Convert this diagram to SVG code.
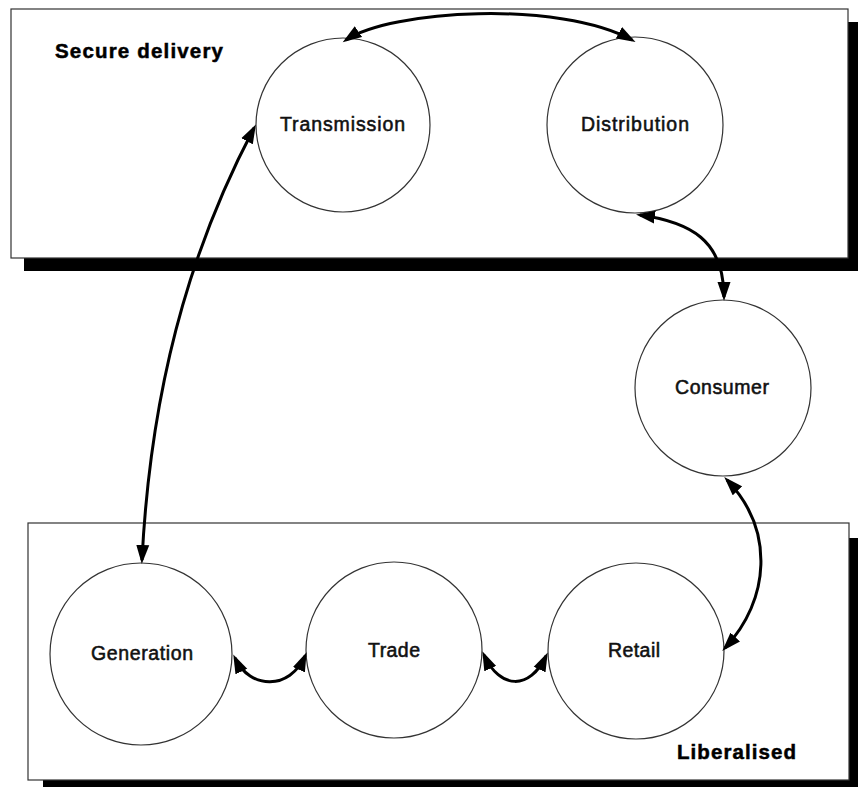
<svg xmlns="http://www.w3.org/2000/svg" width="858" height="787" viewBox="0 0 858 787">
  <style>
    .panel { fill: #ffffff; stroke: #333333; stroke-width: 1.2; }
    .shadow { fill: #000000; }
    .node circle { fill: #ffffff; stroke: #333333; stroke-width: 1.2; }
    .node text { font-family: "Liberation Sans", Arial, sans-serif; font-size: 19.5px; fill: #111111; stroke: #111111; stroke-width: 0.55; text-anchor: middle; }
    .title { font-family: "Liberation Sans", Arial, sans-serif; font-size: 20.5px; font-weight: bold; fill: #000000; stroke: #000000; stroke-width: 0.5; }
    .link { fill: none; stroke: #000000; stroke-width: 3; marker-start: url(#head); marker-end: url(#head); }
  </style>
  <defs>
    <marker id="head" markerUnits="userSpaceOnUse" markerWidth="20" markerHeight="14" refX="15" refY="6.5" orient="auto-start-reverse" viewBox="0 0 20 13">
      <path d="M0,0 L19,6.5 L0,13 Z" fill="#000000"/>
    </marker>
  </defs>

  <rect width="858" height="787" fill="#ffffff"/>

  <!-- Panels with drop shadows -->
  <g id="panel-secure">
    <rect class="shadow" x="24" y="22" width="840" height="249"/>
    <rect class="panel" x="11" y="9" width="837" height="249"/>
    <text class="title" x="55" y="58" textLength="168" lengthAdjust="spacing">Secure delivery</text>
  </g>
  <g id="panel-liberalised">
    <rect class="shadow" x="43" y="538" width="822" height="257"/>
    <rect class="panel" x="28" y="523" width="821" height="257"/>
    <text class="title" x="677" y="759" textLength="119" lengthAdjust="spacing">Liberalised</text>
  </g>

  <!-- Nodes -->
  <g id="transmission" class="node">
    <circle cx="343" cy="125" r="87"/>
    <text x="342.5" y="131" textLength="125" lengthAdjust="spacing">Transmission</text>
  </g>
  <g id="distribution" class="node">
    <circle cx="635" cy="125" r="88"/>
    <text x="635" y="131" textLength="108" lengthAdjust="spacing">Distribution</text>
  </g>
  <g id="consumer" class="node">
    <circle cx="723" cy="388" r="88"/>
    <text x="722" y="394" textLength="94" lengthAdjust="spacing">Consumer</text>
  </g>
  <g id="generation" class="node">
    <circle cx="141" cy="654" r="91"/>
    <text x="142" y="660" textLength="102" lengthAdjust="spacing">Generation</text>
  </g>
  <g id="trade" class="node">
    <circle cx="394" cy="650" r="88"/>
    <text x="394" y="657" textLength="52" lengthAdjust="spacing">Trade</text>
  </g>
  <g id="retail" class="node">
    <circle cx="636" cy="651" r="88"/>
    <text x="634" y="657" textLength="52" lengthAdjust="spacing">Retail</text>
  </g>

  <!-- Connectors (two-way arrows) -->
  <g id="connectors">
    <path class="link" d="M346,40 C390,10 560,0 632,40"/>
    <path class="link" d="M254,128 C203,225 152,360 142,560"/>
    <path class="link" d="M640,215 C690,222 724,240 724,297"/>
    <path class="link" d="M727,480 C775,530 770,600 725,648"/>
    <path class="link" d="M235,658 C250,690 290,690 305,656"/>
    <path class="link" d="M484,655 C500,690 530,690 546,656"/>
  </g>
</svg>
